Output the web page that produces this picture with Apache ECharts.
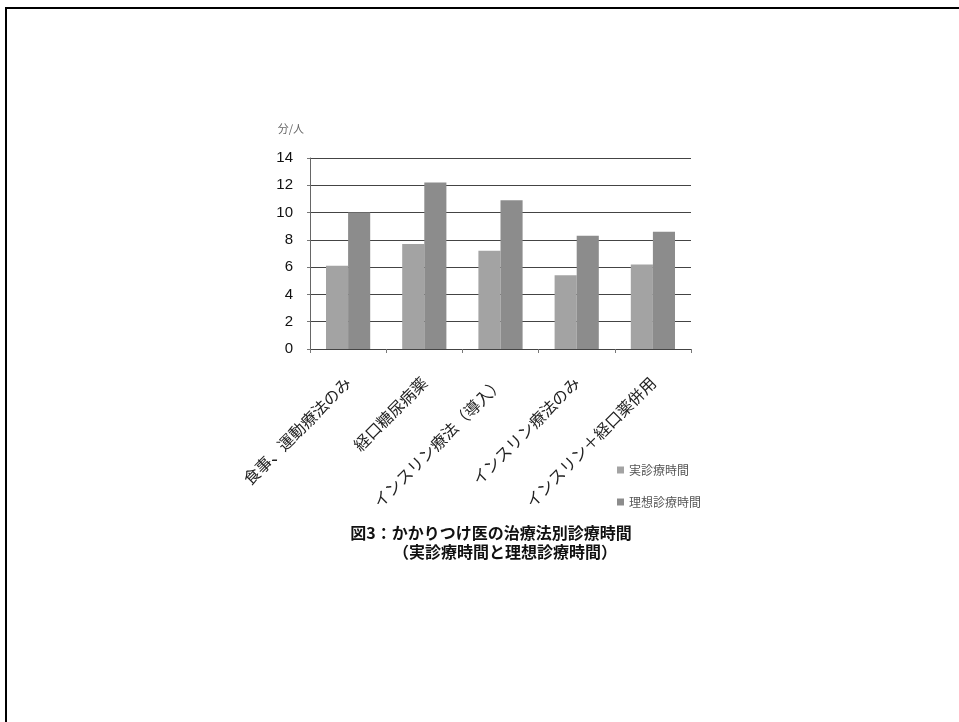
<!DOCTYPE html>
<html>
<head>
<meta charset="utf-8">
<script src="https://cdn.jsdelivr.net/npm/echarts@6/dist/echarts.min.js"></script>
<style>
  html, body { margin: 0; padding: 0; background: #fff; }
  #chart { width: 959px; height: 722px; }
</style>
</head>
<body>
<div id="chart"></div>
<script>
// 治療法別の診療時間（分/人）
const categories = ['食事、運動療法のみ', '経口糖尿病薬', 'インスリン療法（導入）', 'インスリン療法のみ', 'インスリン＋経口薬併用'];
const actualTime = [6.1, 7.7, 7.2, 5.4, 6.2];   // 実診療時間
const idealTime = [10.0, 12.2, 10.9, 8.3, 8.6]; // 理想診療時間
const yTicks = [0, 2, 4, 6, 8, 10, 12, 14];

const jp = '"Noto Sans CJK JP", "Noto Sans", sans-serif';

const chart = echarts.init(document.getElementById('chart'), null, { renderer: 'canvas' });
chart.setOption({
  backgroundColor: '#fff',
  animation: false,
  grid: { left: 310, right: 268, top: 158, bottom: 373, containLabel: false },
  legend: {
    orient: 'vertical',
    left: 612, top: 459,
    itemWidth: 7, itemHeight: 7, itemGap: 20,
    icon: 'rect',
    textStyle: { fontFamily: jp, fontSize: 12, color: '#555' },
    data: ['実診療時間', '理想診療時間']
  },
  xAxis: {
    type: 'category',
    data: categories,
    axisLine: { lineStyle: { color: '#444', width: 1 } },
    axisTick: { show: true, length: 4, lineStyle: { color: '#777' } },
    axisLabel: { rotate: 45, margin: 31, fontFamily: jp, fontSize: 16, color: '#222', interval: 0 }
  },
  yAxis: {
    type: 'value',
    min: 0, max: 14, interval: 2,
    name: '分/人',
    nameLocation: 'end',
    nameGap: 24,
    nameTextStyle: { fontFamily: jp, fontSize: 11, color: '#666', align: 'right', padding: [0, 6, 0, 0] },
    axisLine: { show: true, lineStyle: { color: '#666' } },
    axisTick: { show: true, length: 3, inside: false, lineStyle: { color: '#777' } },
    axisLabel: {
      margin: 17, fontFamily: '"Liberation Sans", Arial, sans-serif', fontSize: 15, color: '#111',
      formatter: v => yTicks.includes(v) ? String(v) : ''
    },
    splitLine: { show: true, lineStyle: { color: '#444', width: 1 } }
  },
  series: [
    {
      name: '実診療時間', type: 'bar', data: actualTime,
      barGap: '0%', barCategoryGap: '42%',
      itemStyle: { color: '#a3a3a3' }
    },
    {
      name: '理想診療時間', type: 'bar', data: idealTime,
      itemStyle: { color: '#8c8c8c' }
    }
  ],
  graphic: [
    { type: 'rect', shape: { x: 5, y: 7, width: 954, height: 2 }, style: { fill: '#000' }, silent: true },
    { type: 'rect', shape: { x: 5, y: 7, width: 2, height: 715 }, style: { fill: '#000' }, silent: true },
    {
      type: 'text', x: 491, y: 533,
      style: { text: '図3：かかりつけ医の治療法別診療時間', fontFamily: jp, fontSize: 16, fontWeight: 'bold', fill: '#111', align: 'center', verticalAlign: 'middle' }
    },
    {
      type: 'text', x: 505, y: 552,
      style: { text: '（実診療時間と理想診療時間）', fontFamily: jp, fontSize: 16, fontWeight: 'bold', fill: '#111', align: 'center', verticalAlign: 'middle' }
    }
  ]
});
</script>
</body>
</html>
